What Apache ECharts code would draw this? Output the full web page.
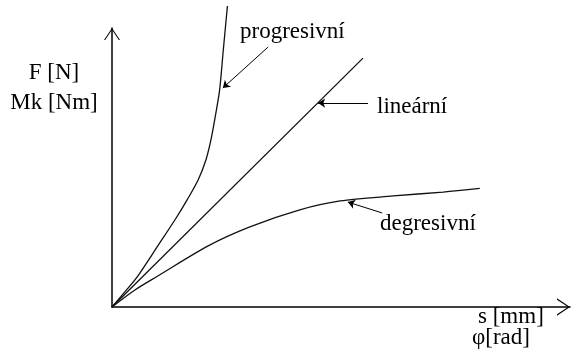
<!DOCTYPE html>
<html>
<head>
<meta charset="utf-8">
<title>Charakteristika pružiny</title>
<script src="https://cdn.jsdelivr.net/npm/echarts@6/dist/echarts.min.js"></script>
<style>
    html, body { margin: 0; padding: 0; background: #fff; }
    #chart { width: 571px; height: 358px; }
</style>
</head>
<body>
<div id="chart"></div>
<script>
// data (relative units, 0-100 on both axes)
const linearData = [[0, 0], [54.8, 89.2]];
const progressiveData = [
    [0, 0], [2.8, 5.4], [5.5, 10.8], [10.0, 21.9], [14.0, 31.9], [16.4, 38.4],
    [18.8, 45.5], [20.5, 52.7], [21.6, 59.9], [22.6, 68.8], [23.5, 77.8],
    [24.3, 92.1], [25.2, 107.9]
];
const degressiveData = [
    [0, 0], [5.0, 6.1], [10.0, 11.1], [21.0, 21.9], [30.1, 28.7], [41.0, 34.8],
    [49.8, 38.0], [61.4, 39.8], [72.3, 41.2], [80.3, 42.5]
];
// leader arrows: [from, to]
const progressiveLeader = [[34.1, 93.2], [24.2, 78.5]];
const linearLeader = [[55.9, 73.1], [45.0, 73.1]];
const degressiveLeader = [[59.0, 33.7], [51.5, 37.6]];

const curveNames = ['progresivní', 'lineární', 'degresivní'];
const yAxisLabels = ['F [N]', 'Mk [Nm]'];
const xAxisLabels = ['s [mm]', 'φ[rad]'];

document.addEventListener('DOMContentLoaded', function() {
    initChart();
});

// open chevron arrow for axis ends
const chevron = 'path://M8,0 L16,12 L14.8,12 L8,1.8 L1.2,12 L0,12 Z';
const textFont = '23px "Liberation Serif", "DejaVu Serif", serif';

function makeText(text, x, y, align) {
    return {
        type: 'text',
        x: x,
        y: y,
        silent: true,
        style: {
            text: text,
            font: textFont,
            fill: '#000',
            align: align,
            textAlign: align,
            verticalAlign: 'middle',
            textVerticalAlign: 'middle'
        }
    };
}

function curveSeries(name, data) {
    return {
        name: name,
        type: 'line',
        data: data,
        smooth: 0.3,
        symbol: 'none',
        clip: false,
        lineStyle: { color: '#111', width: 1.3 }
    };
}

function leaderSeries(coords) {
    return {
        type: 'lines',
        coordinateSystem: 'cartesian2d',
        symbol: ['none', 'arrow'],
        symbolSize: 7,
        lineStyle: { color: '#000', width: 1, opacity: 1 },
        silent: true,
        data: [{ coords: coords }]
    };
}

function initChart() {
    const chart = echarts.init(document.getElementById('chart'), null, { renderer: 'canvas' });

    const axisCommon = {
        type: 'value',
        min: 0,
        max: 100,
        axisTick: { show: false },
        axisLabel: { show: false },
        splitLine: { show: false }
    };

    const option = {
        animation: false,
        backgroundColor: '#fff',
        grid: { left: 112, right: 1, top: 28, bottom: 51 },
        xAxis: Object.assign({}, axisCommon, {
            axisLine: {
                show: true,
                symbol: ['none', chevron],
                symbolSize: [20, 13],
                symbolOffset: [0, -6.5],
                lineStyle: { color: '#000', width: 1.5 }
            }
        }),
        yAxis: Object.assign({}, axisCommon, {
            axisLine: {
                show: true,
                symbol: ['none', chevron],
                symbolSize: [17, 12],
                symbolOffset: [0, -6],
                lineStyle: { color: '#000', width: 1.5 }
            }
        }),
        series: [
            curveSeries(curveNames[0], progressiveData),
            curveSeries(curveNames[1], linearData),
            curveSeries(curveNames[2], degressiveData),
            leaderSeries(progressiveLeader),
            leaderSeries(linearLeader),
            leaderSeries(degressiveLeader)
        ],
        graphic: [
            makeText(yAxisLabels[0], 54, 73, 'center'),
            makeText(yAxisLabels[1], 54, 103, 'center'),
            makeText(curveNames[0], 240, 32, 'left'),
            makeText(curveNames[1], 377, 107, 'left'),
            makeText(curveNames[2], 380, 224, 'left'),
            makeText(xAxisLabels[0], 478, 317, 'left'),
            makeText(xAxisLabels[1], 472, 338, 'left')
        ]
    };

    chart.setOption(option);

    window.addEventListener('resize', function() {
        chart.resize();
    });
}
</script>
</body>
</html>
